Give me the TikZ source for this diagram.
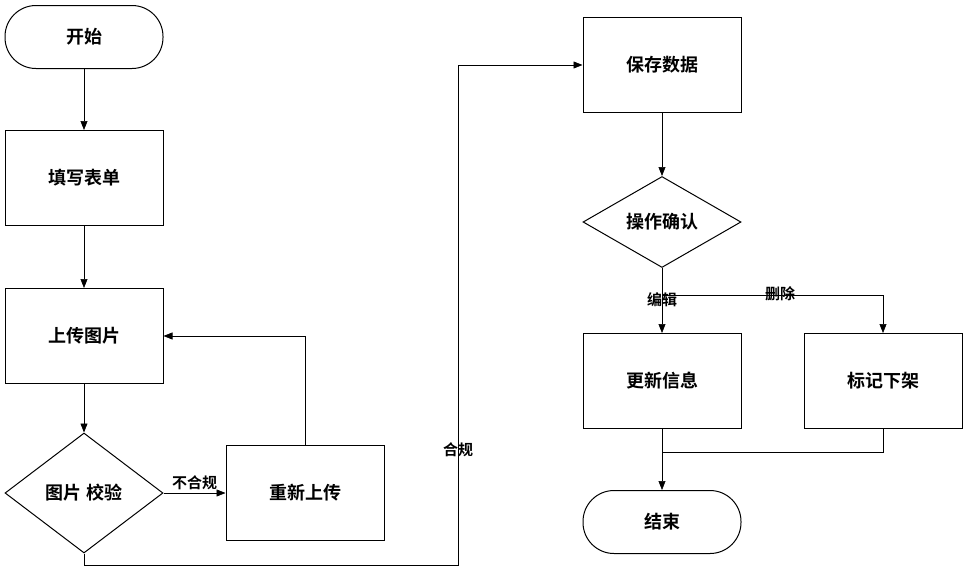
\documentclass[tikz,border=0pt]{standalone}
\usepackage{fontspec}
\newfontfamily\cjk{Noto Sans CJK SC Bold}
\usetikzlibrary{shapes.geometric,arrows.meta}
\begin{document}
\begin{tikzpicture}[x=1pt,y=-1pt,
  every node/.style={font=\cjk\fontsize{18}{20}\selectfont},
  box/.style={draw,line width=1pt,minimum width=158pt,minimum height=95pt},
  term/.style={draw,line width=1pt,rounded corners=31pt,minimum width=158pt,minimum height=63pt},
  dia/.style={draw,line width=1pt,diamond,aspect=1.45,minimum width=158pt,minimum height=110pt,inner sep=0pt},
  conn/.style={line width=0.6pt,-{Triangle[length=9pt,width=7pt]}},
  lbl/.style={font=\cjk\fontsize{15}{17}\selectfont}]
\useasboundingbox (0,0) rectangle (966,582);
\node[term] (start) at (84,37) {开始};
\node[box] (fill) at (84,178) {填写表单};
\node[box] (up) at (84,336) {上传图片};
\node[dia,minimum height=120pt] (chk) at (84,493) {图片 校验};
\node[box] (re) at (305,493) {重新上传};
\node[box] (save) at (662,65) {保存数据};
\node[dia,minimum height=91pt] (op) at (662,222) {操作确认};
\node[box] (upd) at (662,381) {更新信息};
\node[box] (mark) at (883,381) {标记下架};
\node[term] (end) at (662,522) {结束};
\coordinate (s1) at (662,295);
\coordinate (m1) at (662,452);
\draw[conn] (start) -- (fill);
\draw[conn] (fill) -- (up);
\draw[conn] (up) -- (chk);
\draw[conn] (chk.east) -- node[lbl,above]{不合规} (re.west);
\draw[conn] (re.north) |- (up.east);
\draw[conn] (chk.south) -- (84,565) -| (458,65) -- (save.west);
\node[lbl] (hg) at (458,450) {合规};
\draw[conn] (save) -- (op);
\draw[line width=0.6pt] (op.south) -- (s1);
\draw[conn] (s1) -- (upd.north);
\draw[conn] (s1) -| (mark.north);
\node[lbl] (bj) at (662,300) {编辑};
\node[lbl] (sc) at (780,294) {删除};
\draw[conn] (upd.south) -- (end.north);
\draw[line width=0.6pt] (mark.south) |- (m1);
\end{tikzpicture}
\end{document}
